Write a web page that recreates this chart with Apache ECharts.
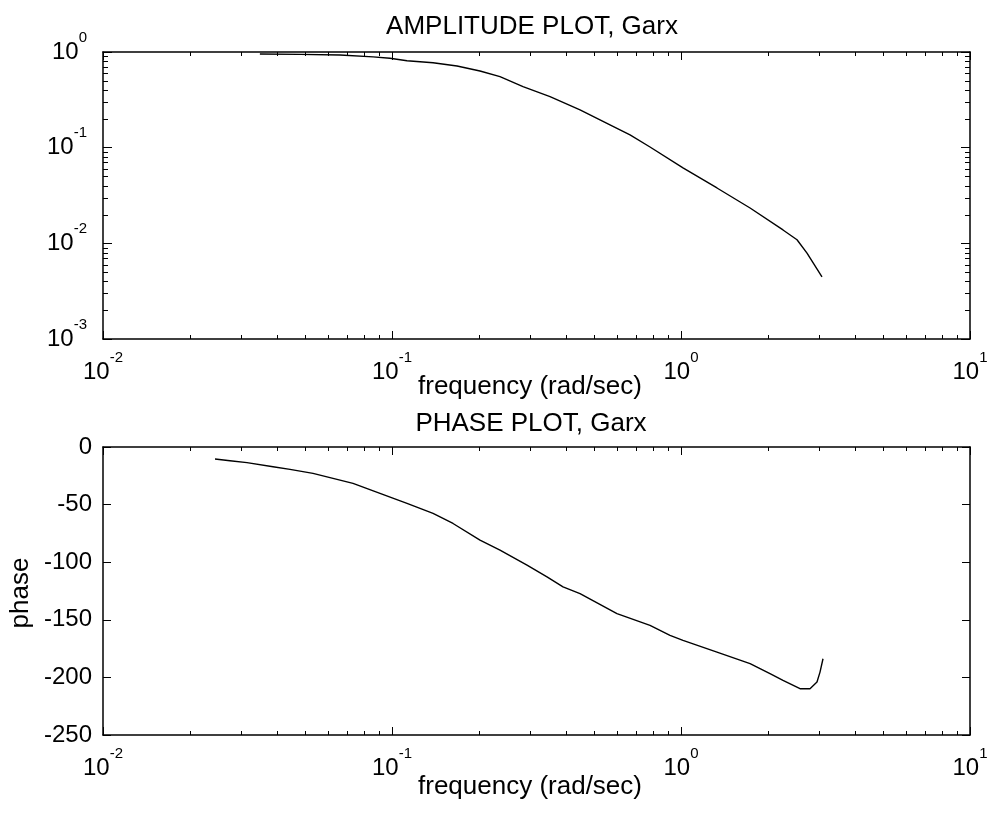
<!DOCTYPE html>
<html><head><meta charset="utf-8">
<script src="https://cdn.jsdelivr.net/npm/echarts@6/dist/echarts.min.js"></script>
<style>html,body{margin:0;padding:0;background:#fff}#c{width:991px;height:823px}</style>
</head><body><div id="c"></div>
<script>
// ---- data ----
const ampFreq = [0.0349, 0.0481, 0.0661, 0.0860, 0.0984, 0.1127, 0.1387, 0.1679, 0.2016, 0.2364, 0.2840, 0.3522, 0.4473, 0.5679, 0.6662, 0.7812, 1.016, 1.332, 1.734, 2.254, 2.520, 2.729, 3.075];
const ampValues = [0.953, 0.945, 0.93, 0.89, 0.86, 0.811, 0.773, 0.714, 0.633, 0.552, 0.434, 0.341, 0.248, 0.173, 0.136, 0.1016, 0.0614, 0.0379, 0.0234, 0.0138, 0.0109, 0.0079, 0.00445];
const phaseFreq = [0.02441, 0.02750, 0.03149, 0.03875, 0.04437, 0.05329, 0.06250, 0.07330, 0.09088, 0.1127, 0.1387, 0.1626, 0.2016, 0.2364, 0.2932, 0.3438, 0.3906, 0.4473, 0.6004, 0.7812, 0.9161, 1.016, 1.332, 1.734, 2.032, 2.254, 2.581, 2.795, 2.955, 3.027, 3.100];
const phaseValues = [-10.4, -11.9, -13.6, -17.1, -19.4, -22.9, -27.2, -31.6, -40.3, -49, -57.7, -66.4, -80.9, -89.6, -102.6, -112.8, -121.5, -127.2, -144.6, -154.8, -163.5, -167.8, -178, -188.1, -196.8, -202.6, -209.8, -209.8, -204, -195.4, -183.8];
const freqMinorTicks = [0.02,0.03,0.04,0.05,0.06,0.07,0.08,0.09, 0.2,0.3,0.4,0.5,0.6,0.7,0.8,0.9, 2,3,4,5,6,7,8,9];
const ampMinorTicks = [0.002,0.003,0.004,0.005,0.006,0.007,0.008,0.009, 0.02,0.03,0.04,0.05,0.06,0.07,0.08,0.09, 0.2,0.3,0.4,0.5,0.6,0.7,0.8,0.9];
const titles = ['AMPLITUDE PLOT, Garx', 'PHASE PLOT, Garx'];
const xName = 'frequency (rad/sec)';
const phaseName = 'phase';

const FONT = "'Liberation Sans', Arial, sans-serif";
const chart = echarts.init(document.getElementById('c'), null, {renderer: 'canvas'});

function pow10Label(v) {
  const e = Math.round(Math.log10(v));
  return '{b|10}{s|' + e + '}';
}
const rich = {
  b: {fontSize: 24, fontFamily: FONT, color: '#000', lineHeight: 44},
  s: {fontSize: 15, fontFamily: FONT, color: '#000', lineHeight: 16, verticalAlign: 'top'}
};
const lineSt = {color: '#000', width: 1.5};

function logX(grid, pos, show) {
  return {
    gridIndex: grid, type: 'log', logBase: 10, min: 0.01, max: 10, position: pos,
    axisLine: {show: true, onZero: false, lineStyle: lineSt},
    axisTick: {show: true, inside: true, length: 8, lineStyle: {color: '#000', width: 1}},
    axisLabel: show ? {show: true, formatter: pow10Label, rich: rich, margin: 11, showMinLabel: true, showMaxLabel: true, hideOverlap: false} : {show: false},
    splitLine: {show: false}, minorTick: {show: false}, minorSplitLine: {show: false}
  };
}

function minorTickSeries(xIdx, yIdx, data, dir, len) {
  return {
    type: 'custom', xAxisIndex: xIdx, yAxisIndex: yIdx, data: data, silent: true, clip: false, z: 5,
    animation: false,
    renderItem: function (params, api) {
      const cs = params.coordSys;
      const p = api.coord([api.value(0), api.value(1)]);
      const st = {stroke: '#000', lineWidth: 1};
      if (dir === 'x') {
        const x = Math.round(p[0]) + 0.5;
        return {type: 'group', children: [
          {type: 'line', shape: {x1: x, y1: cs.y, x2: x, y2: cs.y + len}, style: st},
          {type: 'line', shape: {x1: x, y1: cs.y + cs.height, x2: x, y2: cs.y + cs.height - len}, style: st}
        ]};
      } else {
        const y = Math.round(p[1]) + 0.5;
        return {type: 'group', children: [
          {type: 'line', shape: {x1: cs.x, y1: y, x2: cs.x + len, y2: y}, style: st},
          {type: 'line', shape: {x1: cs.x + cs.width, y1: y, x2: cs.x + cs.width - len, y2: y}, style: st}
        ]};
      }
    }
  };
}

const option = {
  backgroundColor: '#fff',
  animation: false,
  textStyle: {fontFamily: FONT},
  grid: [
    {left: 103, top: 52, width: 867, height: 287, containLabel: false, outerBoundsMode: 'none'},
    {left: 103, top: 447, width: 867, height: 288, containLabel: false, outerBoundsMode: 'none'}
  ],
  xAxis: [logX(0, 'bottom', true), logX(0, 'top', false), logX(1, 'bottom', true), logX(1, 'top', false)],
  yAxis: [
    {gridIndex: 0, type: 'log', logBase: 10, min: 0.001, max: 1, position: 'left',
     axisLine: {show: true, onZero: false, lineStyle: lineSt},
     axisTick: {show: true, inside: true, length: 9, lineStyle: {color: '#000', width: 1}},
     axisLabel: {show: true, formatter: pow10Label, rich: rich, margin: 16, showMinLabel: true, showMaxLabel: true, hideOverlap: false},
     splitLine: {show: false}},
    {gridIndex: 0, type: 'log', logBase: 10, min: 0.001, max: 1, position: 'right',
     axisLine: {show: true, onZero: false, lineStyle: lineSt},
     axisTick: {show: true, inside: true, length: 9, lineStyle: {color: '#000', width: 1}},
     axisLabel: {show: false}, splitLine: {show: false}},
    {gridIndex: 1, type: 'value', min: -250, max: 0, interval: 50, position: 'left',
     axisLine: {show: true, onZero: false, lineStyle: lineSt},
     axisTick: {show: true, inside: true, length: 8, lineStyle: {color: '#000', width: 1}},
     axisLabel: {show: true, fontSize: 24, fontFamily: FONT, color: '#000', margin: 11, showMinLabel: true, showMaxLabel: true, hideOverlap: false},
     splitLine: {show: false}},
    {gridIndex: 1, type: 'value', min: -250, max: 0, interval: 50, position: 'right',
     axisLine: {show: true, onZero: false, lineStyle: lineSt},
     axisTick: {show: true, inside: true, length: 8, lineStyle: {color: '#000', width: 1}},
     axisLabel: {show: false}, splitLine: {show: false}}
  ],
  series: [
    {type: 'line', xAxisIndex: 0, yAxisIndex: 0, showSymbol: false, symbol: 'none',
     data: ampFreq.map((f, i) => [f, ampValues[i]]),
     lineStyle: {color: '#000', width: 1.4}, z: 3},
    {type: 'line', xAxisIndex: 2, yAxisIndex: 2, showSymbol: false, symbol: 'none',
     data: phaseFreq.map((f, i) => [f, phaseValues[i]]),
     lineStyle: {color: '#000', width: 1.4}, z: 3},
    minorTickSeries(0, 0, freqMinorTicks.map(v => [v, 0.1]), 'x', 4),
    minorTickSeries(0, 0, ampMinorTicks.map(v => [0.1, v]), 'y', 5),
    minorTickSeries(2, 2, freqMinorTicks.map(v => [v, -100]), 'x', 4)
  ],
  graphic: [
    {type: 'text', x: 532, y: 27, style: {text: titles[0], font: '26px ' + FONT, fill: '#000', align: 'center', verticalAlign: 'middle'}},
    {type: 'text', x: 530, y: 387, style: {text: xName, font: '26px ' + FONT, fill: '#000', align: 'center', verticalAlign: 'middle'}},
    {type: 'text', x: 531, y: 424, style: {text: titles[1], font: '26px ' + FONT, fill: '#000', align: 'center', verticalAlign: 'middle'}},
    {type: 'text', x: 530, y: 787, style: {text: xName, font: '26px ' + FONT, fill: '#000', align: 'center', verticalAlign: 'middle'}},
    {type: 'text', x: 21, y: 593, rotation: Math.PI / 2, style: {text: phaseName, font: '26px ' + FONT, fill: '#000', align: 'center', verticalAlign: 'middle'}}
  ]
};
chart.setOption(option);
</script>
</body></html>
